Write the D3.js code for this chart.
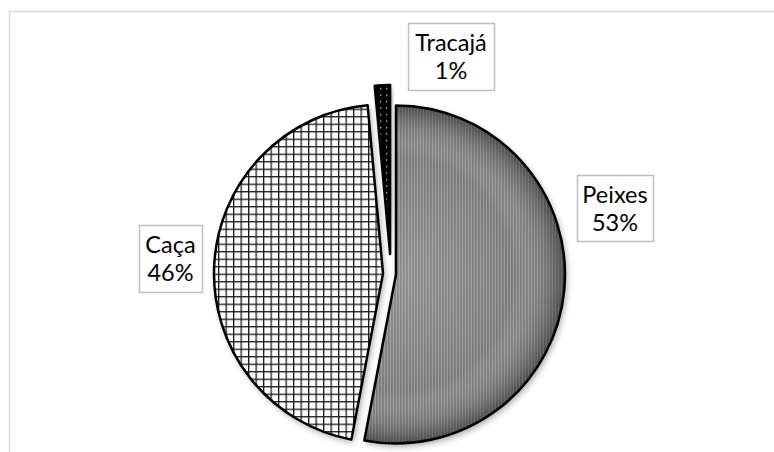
<!DOCTYPE html>
<html><head><meta charset="utf-8">
<script src="https://cdn.jsdelivr.net/npm/d3@7"></script>
<style>html,body{margin:0;padding:0;background:#fff;}svg{display:block;}</style>
</head><body>
<svg id="chart" width="774" height="452"></svg>
<script>
// ---- data ----
const categories = ["Peixes", "Caça", "Tracajá"];
const values = [53.0, 45.55, 1.45];
// ---- layout ----
const W = 774, H = 452;
const cx = 391, cy = 274, R = 169;
const explode = [5, 8, 20];
const labelBoxes = [
  {x: 577, y: 175, w: 76, h: 66},
  {x: 139, y: 225, w: 63, h: 67},
  {x: 408, y: 23, w: 86, h: 67}
];
const fontFamily = "Lato, 'Open Sans', sans-serif";
const fontSize = 23.5;

const svg = d3.select("#chart");
const defs = svg.append("defs");

// Peixes: fine gray texture
const pp = defs.append("pattern").attr("id","patPeixes").attr("patternUnits","userSpaceOnUse")
  .attr("width",3).attr("height",2);
pp.append("rect").attr("width",3).attr("height",2).attr("fill","#8c8c8c");
pp.append("rect").attr("x",0).attr("y",0).attr("width",1).attr("height",1).attr("fill","#b0b0b0");
pp.append("rect").attr("x",1).attr("y",1).attr("width",1).attr("height",1).attr("fill","#666");
pp.append("rect").attr("x",2).attr("y",0).attr("width",1).attr("height",2).attr("fill","#7e7e7e");

// Caça: grid
const pc = defs.append("pattern").attr("id","patCaca").attr("patternUnits","userSpaceOnUse")
  .attr("width",7.5).attr("height",7.5);
pc.append("rect").attr("width",7.5).attr("height",7.5).attr("fill","#fff");
pc.append("rect").attr("x",0).attr("y",0).attr("width",1.3).attr("height",7.5).attr("fill","#1a1a1a");
pc.append("rect").attr("x",0).attr("y",0).attr("width",7.5).attr("height",1.3).attr("fill","#1a1a1a");

// Tracajá: black with white dots
const pt = defs.append("pattern").attr("id","patTrac").attr("patternUnits","userSpaceOnUse")
  .attr("width",6).attr("height",6.5);
pt.append("rect").attr("width",6).attr("height",6.5).attr("fill","#000");
pt.append("rect").attr("x",2).attr("y",3).attr("width",1.2).attr("height",1.2).attr("fill","#fff");

// rim shading gradient
const rg = defs.append("radialGradient").attr("id","rim").attr("gradientUnits","userSpaceOnUse")
  .attr("cx",0).attr("cy",0).attr("r",R);
rg.append("stop").attr("offset","0%").attr("stop-color","#fff").attr("stop-opacity",0.15);
rg.append("stop").attr("offset","70%").attr("stop-color","#fff").attr("stop-opacity",0);
rg.append("stop").attr("offset","100%").attr("stop-color","#000").attr("stop-opacity",0.4);

const sh = defs.append("filter").attr("id","shadow").attr("x","-20%").attr("y","-20%").attr("width","140%").attr("height","140%");
sh.append("feDropShadow").attr("dx",2).attr("dy",3).attr("stdDeviation",3)
  .attr("flood-color","#000").attr("flood-opacity",0.35);

// frame
svg.append("rect").attr("x",9.5).attr("y",11.5).attr("width",W+20).attr("height",H+20)
  .attr("fill","none").attr("stroke","#d9d9d9").attr("stroke-width",1.5);

const fills = ["url(#patPeixes)","url(#patCaca)","url(#patTrac)"];

const pie = d3.pie().sort(null).value(d => d.v).startAngle(0).endAngle(2*Math.PI);
const arcs = pie(categories.map((c,i)=>({c, v: values[i], i})));
const arc = d3.arc().innerRadius(0).outerRadius(R);
const total = d3.sum(values);

const g = svg.append("g").attr("transform",`translate(${cx},${cy})`);
const slices = g.selectAll("g.slice").data(arcs).join("g").attr("class","slice")
  .attr("transform", d => {
    const m = (d.startAngle + d.endAngle)/2, e = explode[d.index];
    return `translate(${Math.sin(m)*e},${-Math.cos(m)*e})`;
  });
slices.append("path").attr("d",arc).attr("fill",(d,i)=>fills[i]).attr("filter","url(#shadow)");
slices.filter((d,i)=>i===0).append("path").attr("d",arc).attr("fill","url(#rim)");
slices.append("path").attr("d",arc).attr("fill","none").attr("stroke","#000")
  .attr("stroke-width",2.5).attr("stroke-linejoin","round");

// labels
const lab = svg.selectAll("g.lab").data(arcs).join("g").attr("class","lab");
lab.append("rect")
  .attr("x",(d,i)=>labelBoxes[i].x+0.5).attr("y",(d,i)=>labelBoxes[i].y+0.5)
  .attr("width",(d,i)=>labelBoxes[i].w).attr("height",(d,i)=>labelBoxes[i].h)
  .attr("fill","#fff").attr("stroke","#bfbfbf").attr("stroke-width",1.5);
const t = lab.append("text").attr("text-anchor","middle")
  .attr("font-family",fontFamily).attr("font-size",fontSize).attr("fill","#000");
t.append("tspan").attr("x",(d,i)=>labelBoxes[i].x+labelBoxes[i].w/2)
  .attr("y",(d,i)=>labelBoxes[i].y+28).text(d=>d.data.c);
t.append("tspan").attr("x",(d,i)=>labelBoxes[i].x+labelBoxes[i].w/2)
  .attr("y",(d,i)=>labelBoxes[i].y+56).text(d=>Math.round(d.data.v/total*100)+"%");
</script>
</body></html>
